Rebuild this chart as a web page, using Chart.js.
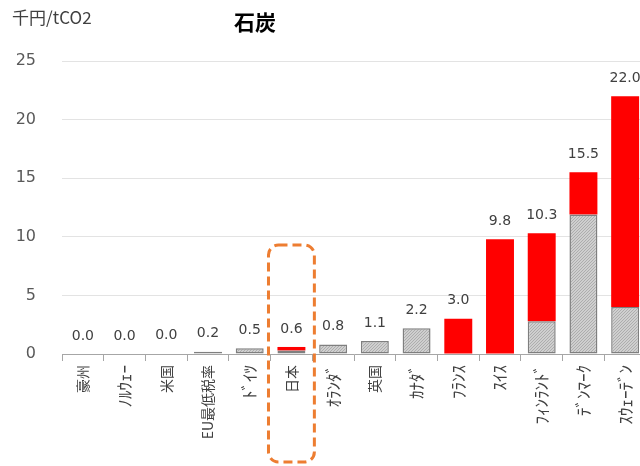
<!DOCTYPE html>
<html>
<head>
<meta charset="utf-8">
<script src="https://cdn.jsdelivr.net/npm/chart.js@4/dist/chart.umd.min.js"></script>
<style>
    html, body { margin: 0; padding: 0; background: #ffffff; overflow: hidden; }
    #wrap { width: 650px; height: 466px; position: relative; }
</style>
</head>
<body>
<div id="wrap"><canvas id="coal-tax-chart"></canvas></div>
<script>
// Coal tax rates by country (thousand yen / tCO2)
const countries = ['豪州', 'ﾉﾙｳｪｰ', '米国', 'EU最低税率', 'ﾄﾞｲﾂ', '日本', 'ｵﾗﾝﾀﾞ', '英国', 'ｶﾅﾀﾞ', 'ﾌﾗﾝｽ', 'ｽｲｽ', 'ﾌｨﾝﾗﾝﾄﾞ', 'ﾃﾞﾝﾏｰｸ', 'ｽｳｪｰﾃﾞﾝ'];
const energyTax = [0, 0, 0.04, 0.2, 0.5, 0.3, 0.8, 1.1, 2.2, 0, 0, 2.8, 11.9, 4.0];
const carbonTax = [0, 0, 0, 0, 0, 0.3, 0, 0, 0, 3.0, 9.8, 7.5, 3.6, 18.0];
const yTicks = [0, 5, 10, 15, 20, 25];
const highlightIndex = 5;

// Dotted grey fill for the energy tax part of each bar
function makeDotPattern() {
    const c = document.createElement('canvas');
    c.width = 3;
    c.height = 3;
    const g = c.getContext('2d');
    g.fillStyle = '#cfcfcf';
    g.fillRect(0, 0, 3, 3);
    g.fillStyle = '#adadad';
    g.fillRect(0, 0, 1, 1);
    g.fillRect(1, 2, 1, 1);
    g.fillRect(2, 1, 1, 1);
    return g.createPattern(c, 'repeat');
}

// half-width katakana looks tiny at the kanji size, so bump it up
function tickFont(context) {
    const name = countries[context.index] || '';
    const halfWidth = /[\uFF61-\uFF9F]/.test(name);
    return { family: '"Noto Sans CJK JP"', size: halfWidth ? 17 : 14 };
}

// Title, unit, value labels and the dashed box round Japan
const overlayPlugin = {
    id: 'overlay',
    afterDatasetsDraw(chart) {
        const ctx = chart.ctx;
        const x = chart.scales.x;
        const y = chart.scales.y;

        ctx.save();
        ctx.fillStyle = '#404040';
        ctx.font = '14px "DejaVu Sans"';
        ctx.textAlign = 'center';
        ctx.textBaseline = 'middle';
        countries.forEach((name, i) => {
            const total = energyTax[i] + carbonTax[i];
            ctx.fillText(total.toFixed(1), x.getPixelForValue(i), y.getPixelForValue(total) - 18);
        });

        ctx.fillStyle = '#000000';
        ctx.font = 'bold 21px "Noto Sans CJK JP"';
        ctx.fillText('石炭', 255, 22);

        ctx.fillStyle = '#404040';
        ctx.font = '17px "Noto Sans CJK JP"';
        ctx.textAlign = 'left';
        ctx.fillText('千円/tCO2', 12, 18);

        // dashed rounded box
        const cx = x.getPixelForValue(highlightIndex);
        const half = (x.getPixelForValue(1) - x.getPixelForValue(0)) * 0.55;
        const top = y.getPixelForValue(9.3);
        const bottom = chart.height - 4;
        ctx.strokeStyle = '#ED7D31';
        ctx.lineWidth = 3;
        ctx.setLineDash([9, 5]);
        ctx.beginPath();
        ctx.roundRect(cx - half, top, half * 2, bottom - top, 10);
        ctx.stroke();
        ctx.restore();
    }
};

function initChart() {
    const ctx = document.getElementById('coal-tax-chart').getContext('2d');
    new Chart(ctx, {
        type: 'bar',
        data: {
            labels: countries,
            datasets: [
                {
                    label: 'エネルギー税',
                    data: energyTax,
                    backgroundColor: makeDotPattern(),
                    borderColor: '#7f7f7f',
                    borderWidth: 1.5,
                    borderSkipped: false,
                    barPercentage: 0.67,
                    categoryPercentage: 1
                },
                {
                    label: '炭素税',
                    data: carbonTax,
                    backgroundColor: '#ff0000',
                    borderWidth: 0,
                    barPercentage: 0.67,
                    categoryPercentage: 1
                }
            ]
        },
        options: {
            responsive: false,
            animation: false,
            devicePixelRatio: 1,
            layout: { padding: { top: 61, right: 4, left: 0, bottom: 0 } },
            plugins: {
                legend: { display: false },
                tooltip: { enabled: false }
            },
            scales: {
                x: {
                    stacked: true,
                    afterFit(scale) { scale.height = 112; },
                    grid: {
                        offset: true,
                        drawOnChartArea: false,
                        tickLength: 7,
                        color: '#a6a6a6'
                    },
                    border: { color: '#a6a6a6', width: 1 },
                    ticks: {
                        minRotation: 90,
                        maxRotation: 90,
                        padding: 4,
                        color: '#404040',
                        font: tickFont
                    }
                },
                y: {
                    stacked: true,
                    min: 0,
                    max: 25,
                    afterFit(scale) { scale.width = 62; },
                    afterBuildTicks(scale) { scale.ticks = yTicks.map(v => ({ value: v })); },
                    grid: { color: '#e3e3e3', drawTicks: false },
                    border: { display: false },
                    ticks: {
                        padding: 26,
                        color: '#595959',
                        font: { family: '"DejaVu Sans"', size: 16 }
                    }
                }
            }
        },
        plugins: [overlayPlugin]
    });
}

const canvas = document.getElementById('coal-tax-chart');
canvas.width = 650;
canvas.height = 466;
initChart();
</script>
</body>
</html>
